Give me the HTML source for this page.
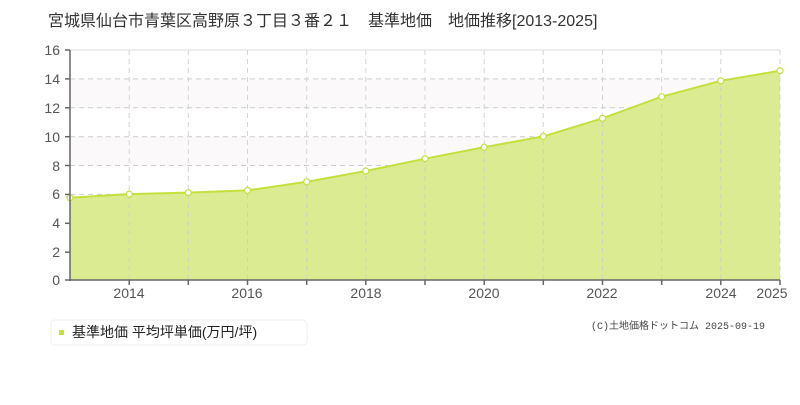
<!DOCTYPE html>
<html><head><meta charset="utf-8"><style>
body{margin:0;background:#fff;width:800px;height:400px;overflow:hidden;font-family:"Liberation Sans","Noto Sans CJK JP",sans-serif}
</style></head><body>
<svg width="800" height="400" xmlns="http://www.w3.org/2000/svg" font-family="Liberation Sans, Noto Sans CJK JP, sans-serif">
<text x="48" y="26" font-size="16" fill="#333">宮城県仙台市青葉区高野原３丁目３番２１　基準地価　地価推移[2013-2025]</text>
<rect x="70" y="78.9" width="710" height="28.9" fill="#fbf9f9"/>
<rect x="70" y="136.7" width="710" height="28.9" fill="#fbf9f9"/>
<line x1="70" y1="50" x2="780" y2="50" stroke="#ddd" stroke-width="1"/>
<g stroke="#ccc" stroke-dasharray="5,4" stroke-width="1">
<line x1="70" y1="78.9" x2="780" y2="78.9"/><line x1="70" y1="107.8" x2="780" y2="107.8"/>
<line x1="70" y1="136.7" x2="780" y2="136.7"/><line x1="70" y1="165.5" x2="780" y2="165.5"/>
<line x1="70" y1="194.4" x2="780" y2="194.4"/><line x1="70" y1="223.3" x2="780" y2="223.3"/>
<line x1="70" y1="252.2" x2="780" y2="252.2"/>
</g>
<polygon fill="#dbeb91" points="70,280 70,197.7 129.2,194.1 188.3,192.6 247.5,190.4 306.7,181.8 365.8,171 425,158.7 484.2,147.2 543.3,136.4 602.5,118.3 661.7,96.7 720.8,80.8 780,70.7 780,280"/>
<g stroke="#ccc" stroke-dasharray="5,4" stroke-width="1" opacity="0.8">
<line x1="129.2" y1="50" x2="129.2" y2="280"/><line x1="188.3" y1="50" x2="188.3" y2="280"/>
<line x1="247.5" y1="50" x2="247.5" y2="280"/><line x1="306.7" y1="50" x2="306.7" y2="280"/>
<line x1="365.8" y1="50" x2="365.8" y2="280"/><line x1="425" y1="50" x2="425" y2="280"/>
<line x1="484.2" y1="50" x2="484.2" y2="280"/><line x1="543.3" y1="50" x2="543.3" y2="280"/>
<line x1="602.5" y1="50" x2="602.5" y2="280"/><line x1="661.7" y1="50" x2="661.7" y2="280"/>
<line x1="720.8" y1="50" x2="720.8" y2="280"/><line x1="780" y1="50" x2="780" y2="280"/>
</g>
<polyline fill="none" stroke="#c3e03c" stroke-width="2" points="70,197.7 129.2,194.1 188.3,192.6 247.5,190.4 306.7,181.8 365.8,171 425,158.7 484.2,147.2 543.3,136.4 602.5,118.3 661.7,96.7 720.8,80.8 780,70.7"/>
<g fill="#fff" stroke="#c3e03c" stroke-width="1.2">
<circle cx="70" cy="197.7" r="3"/><circle cx="129.2" cy="194.1" r="3"/><circle cx="188.3" cy="192.6" r="3"/><circle cx="247.5" cy="190.4" r="3"/><circle cx="306.7" cy="181.8" r="3"/><circle cx="365.8" cy="171" r="3"/><circle cx="425" cy="158.7" r="3"/><circle cx="484.2" cy="147.2" r="3"/><circle cx="543.3" cy="136.4" r="3"/><circle cx="602.5" cy="118.3" r="3"/><circle cx="661.7" cy="96.7" r="3"/><circle cx="720.8" cy="80.8" r="3"/><circle cx="780" cy="70.7" r="3"/>
</g>
<g stroke="#666" stroke-width="1.5">
<line x1="70" y1="50" x2="70" y2="281"/><line x1="70" y1="280" x2="780" y2="280"/>
<line x1="65" y1="50" x2="70" y2="50"/><line x1="65" y1="78.9" x2="70" y2="78.9"/><line x1="65" y1="107.8" x2="70" y2="107.8"/><line x1="65" y1="136.7" x2="70" y2="136.7"/><line x1="65" y1="165.5" x2="70" y2="165.5"/><line x1="65" y1="194.4" x2="70" y2="194.4"/><line x1="65" y1="223.3" x2="70" y2="223.3"/><line x1="65" y1="252.2" x2="70" y2="252.2"/><line x1="65" y1="280" x2="70" y2="280"/>
<line x1="129.2" y1="280" x2="129.2" y2="285"/><line x1="188.3" y1="280" x2="188.3" y2="285"/><line x1="247.5" y1="280" x2="247.5" y2="285"/><line x1="306.7" y1="280" x2="306.7" y2="285"/><line x1="365.8" y1="280" x2="365.8" y2="285"/><line x1="425" y1="280" x2="425" y2="285"/><line x1="484.2" y1="280" x2="484.2" y2="285"/><line x1="543.3" y1="280" x2="543.3" y2="285"/><line x1="602.5" y1="280" x2="602.5" y2="285"/><line x1="661.7" y1="280" x2="661.7" y2="285"/><line x1="720.8" y1="280" x2="720.8" y2="285"/><line x1="780" y1="280" x2="780" y2="285"/>
</g>
<g font-size="14" fill="#555" text-anchor="end">
<text x="60" y="55">16</text><text x="60" y="84">14</text><text x="60" y="113">12</text><text x="60" y="142">10</text><text x="60" y="171">8</text><text x="60" y="199">6</text><text x="60" y="228">4</text><text x="60" y="257">2</text><text x="60" y="285">0</text>
</g>
<g font-size="14" fill="#555" text-anchor="middle">
<text x="129" y="298">2014</text><text x="247" y="298">2016</text><text x="366" y="298">2018</text><text x="484" y="298">2020</text><text x="602" y="298">2022</text><text x="721" y="298">2024</text><text x="772" y="298">2025</text>
</g>
<rect x="51" y="320" width="256" height="25" rx="4" fill="#fff" stroke="#eee"/>
<rect x="59" y="330" width="5" height="5" fill="#c3e03c"/>
<text x="72" y="337" font-size="14" fill="#222">基準地価 平均坪単価(万円/坪)</text>
<text x="765" y="329" font-size="10" fill="#444" text-anchor="end" font-family="Liberation Mono, Noto Sans CJK JP, monospace">(C)土地価格ドットコム 2025-09-19</text>
</svg>
</body></html>
